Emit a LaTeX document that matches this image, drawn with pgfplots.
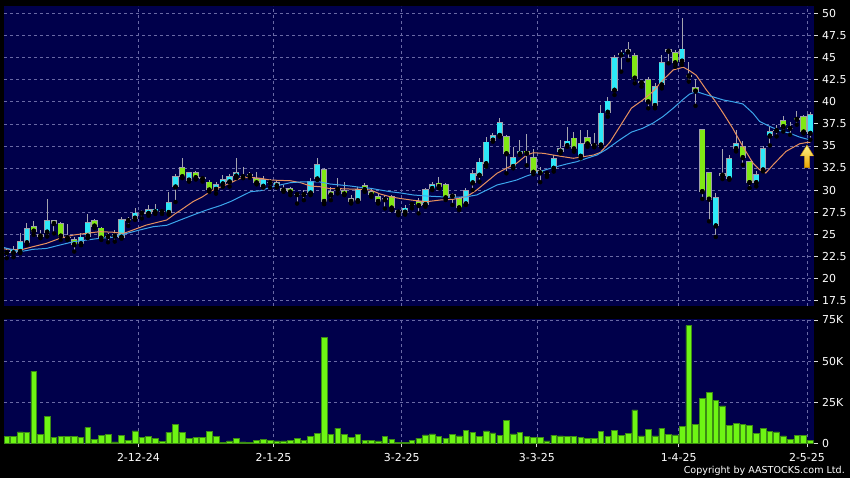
\documentclass[border=0pt]{standalone}
\usepackage{pgfplots}
\pgfplotsset{compat=1.18}
\usepackage{pgfplotstable}
\usepackage{fontspec}
\setmainfont{DejaVu Sans}
\definecolor{bgnavy}{RGB}{0,0,75}
\definecolor{gridc}{RGB}{105,105,165}
\definecolor{cyanb}{RGB}{45,232,248}
\definecolor{greenb}{RGB}{128,232,20}
\definecolor{outlc}{RGB}{160,160,170}
\definecolor{wickc}{RGB}{165,165,175}
\definecolor{maorange}{RGB}{232,145,95}
\definecolor{mablue}{RGB}{60,165,235}
\definecolor{volg}{RGB}{110,245,20}
\definecolor{volo}{RGB}{60,140,20}
\definecolor{ticklc}{RGB}{220,220,220}

\pgfplotstableread{
i lo hi wl wh t
0 22.86 22.98 22.30 23.40 1
1 22.86 23.31 22.41 23.69 1
2 23.00 24.22 22.86 25.20 1
3 23.99 25.69 23.80 26.25 1
4 25.31 25.95 24.93 26.55 0
5 24.75 25.00 24.56 25.50 0
6 25.20 26.63 24.75 28.97 1
7 26.16 26.60 25.10 26.63 0
8 24.75 26.25 24.37 26.44 0
9 24.54 24.66 24.35 26.20 1
10 23.77 24.44 23.05 24.75 0
11 23.88 24.75 23.77 25.12 1
12 24.75 26.37 24.56 27.30 1
13 25.88 26.63 25.70 26.70 0
14 24.52 25.76 24.37 25.88 0
15 24.69 24.81 24.10 25.10 1
16 24.75 25.00 24.18 25.50 1
17 24.63 26.70 24.50 27.00 1
18 26.48 26.74 25.95 27.00 0
19 26.78 27.46 26.63 27.95 1
20 27.34 27.46 26.80 27.80 1
21 27.31 27.88 27.10 28.35 1
22 27.50 27.90 27.30 28.40 1
23 27.51 27.63 27.30 27.90 0
24 27.42 28.65 27.23 29.80 1
25 30.30 31.60 28.65 31.80 1
26 31.46 32.60 31.35 33.58 0
27 31.08 32.00 30.96 32.10 1
28 31.35 32.00 31.20 32.20 0
29 31.23 31.46 30.96 31.60 0
30 29.96 30.96 29.80 31.15 0
31 30.04 30.65 29.60 30.88 1
32 30.65 31.27 30.38 31.73 1
33 30.88 31.54 30.40 31.80 1
34 31.54 32.04 31.35 33.58 1
35 31.46 31.65 31.35 32.58 1
36 31.58 31.80 31.40 32.10 0
37 30.77 31.35 30.65 32.10 0
38 30.38 31.23 30.27 31.54 1
39 30.79 30.91 30.30 31.20 1
40 30.45 30.91 30.30 31.10 1
41 29.95 30.25 29.81 30.57 0
42 29.73 30.19 29.43 30.38 0
43 29.44 29.56 28.48 29.81 1
44 29.44 29.56 28.86 30.00 1
45 29.62 31.06 29.43 31.33 1
46 31.21 32.92 31.14 33.60 1
47 28.67 32.42 28.41 32.50 0
48 29.39 29.85 28.86 30.38 0
49 30.04 30.16 29.62 31.33 1
50 29.51 30.04 29.43 30.95 0
51 28.67 29.13 28.48 29.43 0
52 28.75 30.11 28.67 30.38 1
53 30.00 30.61 29.81 30.76 0
54 29.43 29.89 29.24 30.19 0
55 28.67 29.36 28.48 29.62 0
56 28.86 29.09 27.92 29.43 1
57 27.92 29.36 27.73 29.43 0
58 27.46 27.73 27.16 27.80 1
59 27.46 28.03 27.23 28.30 1
60 28.34 28.46 27.94 28.69 1
61 28.20 28.77 27.37 29.07 0
62 28.32 30.09 28.13 30.27 1
63 30.13 30.65 30.00 30.90 1
64 30.35 30.84 30.20 31.52 0
65 29.07 30.65 28.88 30.77 0
66 29.26 29.52 28.32 29.63 1
67 27.94 29.07 27.75 29.26 0
68 28.39 29.97 28.32 30.20 1
69 30.77 31.90 30.01 32.27 1
70 31.63 33.22 30.95 33.60 1
71 32.93 35.48 32.65 35.97 1
72 35.60 36.20 35.48 36.42 1
73 36.14 37.67 36.05 38.12 1
74 34.06 36.10 31.90 36.23 0
75 32.62 33.75 32.46 34.91 1
76 34.05 34.48 33.97 35.67 1
77 34.10 34.47 32.80 36.40 0
78 31.97 33.75 31.80 34.60 0
79 31.90 32.30 30.90 32.60 0
80 31.82 31.95 31.50 32.00 1
81 32.42 33.65 32.10 33.97 1
82 34.35 34.72 34.16 35.67 1
83 34.99 35.59 34.90 37.17 1
84 34.61 35.93 34.35 36.61 0
85 33.78 35.36 33.59 36.80 1
86 35.18 36.04 34.90 36.80 0
87 34.99 35.21 34.84 36.42 0
88 35.05 38.76 34.90 39.60 1
89 38.76 40.12 38.30 40.57 1
90 41.25 45.02 40.76 45.28 1
91 45.24 45.55 43.40 45.85 1
92 45.58 45.92 44.70 46.79 1
93 42.62 45.28 42.08 45.47 0
94 42.08 42.30 41.70 42.45 0
95 39.93 42.53 39.25 42.83 0
96 39.52 41.78 39.25 42.08 1
97 41.85 44.46 41.50 45.28 1
98 45.66 45.92 44.34 46.00 0
99 44.35 45.65 43.96 45.85 0
100 44.54 46.00 44.16 49.44 1
101 42.85 42.98 42.28 44.54 1
102 41.15 41.64 39.53 42.55 0
103 29.78 36.90 29.00 36.90 0
104 28.92 32.04 26.47 32.04 0
105 25.90 29.22 24.70 29.67 1
106 31.63 31.93 31.25 34.64 1
107 31.25 33.62 31.17 34.00 1
108 34.64 35.32 34.38 36.80 1
109 33.62 34.94 32.87 35.50 0
110 30.80 33.25 30.23 33.25 0
111 30.80 31.81 30.42 32.12 1
112 32.23 34.75 32.12 34.94 1
113 36.07 36.71 35.05 37.20 1
114 36.69 36.81 36.07 37.40 1
115 37.12 37.95 36.63 38.33 0
116 36.94 37.06 36.26 37.76 1
117 37.95 38.21 37.40 38.90 0
118 36.52 38.33 36.40 38.50 0
119 36.37 38.59 35.70 38.78 1
}\candles

\pgfplotstableread{
i v
0 4.0
1 4.0
2 6.9
3 6.5
4 43.7
5 5.2
6 16.3
7 3.6
8 4.2
9 4.2
10 4.4
11 3.8
12 9.5
13 2.4
14 5.0
15 5.4
16 0.8
17 5.0
18 2.0
19 7.5
20 3.8
21 4.2
22 3.0
23 1.0
24 6.7
25 11.5
26 6.7
27 3.0
28 3.4
29 3.4
30 7.3
31 4.0
32 0.6
33 1.4
34 2.8
35 0.8
36 0.4
37 1.8
38 2.6
39 1.8
40 1.4
41 1.4
42 1.6
43 3.0
44 1.8
45 4.0
46 5.8
47 64.5
48 5.4
49 9.3
50 5.6
51 3.6
52 5.4
53 2.0
54 2.0
55 1.4
56 4.4
57 2.6
58 0.4
59 0.6
60 2.0
61 3.2
62 5.1
63 5.7
64 4.1
65 3.2
66 5.3
67 4.5
68 7.7
69 6.7
70 4.1
71 7.5
72 6.3
73 4.7
74 14.0
75 5.7
76 6.5
77 4.1
78 3.4
79 3.4
80 1.4
81 4.9
82 4.5
83 4.3
84 4.1
85 3.6
86 3.2
87 3.2
88 7.3
89 4.1
90 7.7
91 4.7
92 5.9
93 20.3
94 4.5
95 8.3
96 4.5
97 9.1
98 5.5
99 5.1
100 10.5
101 71.6
102 11.6
103 27.4
104 30.8
105 25.9
106 22.7
107 10.9
108 12.2
109 11.6
110 10.9
111 6.1
112 9.3
113 7.3
114 6.9
115 4.5
116 2.6
117 4.7
118 4.7
119 1.6
}\vol

\begin{document}
\begin{tikzpicture}[x=1bp,y=1bp]
\fill[black] (0,0) rectangle (850,478);
\begin{axis}[
  at={(4bp,172bp)}, anchor=south west, scale only axis,
  width=809.5bp, height=300bp,
  xmin=-0.4, xmax=119.47, ymin=16.89, ymax=50.83,
  enlargelimits=false,
  axis background/.style={fill=bgnavy},
  axis line style={draw=none},
  xtick={19.5,39.5,58.5,78.5,99.5,118.5}, xticklabels={},
  xtick style={draw=none},
  ytick={17.5,20,22.5,25,27.5,30,32.5,35,37.5,40,42.5,45,47.5,50},
  ytick pos=right, yticklabel pos=right,
  tick align=outside, major tick length=4bp,
  ytick style={draw=ticklc, line width=0.8bp},
  xmajorgrids, ymajorgrids,
  major grid style={draw=gridc, line width=0.6bp, dash pattern=on 3bp off 3bp},
  yticklabel style={font=\fontsize{11}{13}\selectfont, text=white, anchor=west, inner sep=0pt, xshift=4.5bp},
  /pgf/number format/assume math mode=true,
]
% wicks
\addplot[only marks, mark=none, forget plot,
  error bars/.cd, y dir=plus, y explicit, error mark=none,
  error bar style={line width=1bp, draw=wickc, solid}]
  table[x=i, y=wl, y error expr={\thisrow{wh}-\thisrow{wl}}] {\candles};
% body outlines
\addplot[only marks, mark=none, forget plot,
  error bars/.cd, y dir=plus, y explicit, error mark=none,
  error bar style={line width=6.2bp, draw=outlc, solid}]
  table[x=i, y=lo, y error expr={\thisrow{hi}-\thisrow{lo}}] {\candles};
% cyan bodies
\addplot[only marks, mark=none, forget plot,
  error bars/.cd, y dir=plus, y explicit, error mark=none,
  error bar style={line width=4.7bp, draw=cyanb, solid}]
  table[x=i, y expr={\thisrow{lo}+0.09}, y error expr={\thisrow{t}*max(\thisrow{hi}-\thisrow{lo}-0.18,0)}] {\candles};
% green bodies
\addplot[only marks, mark=none, forget plot,
  error bars/.cd, y dir=plus, y explicit, error mark=none,
  error bar style={line width=4.7bp, draw=greenb, solid}]
  table[x=i, y expr={\thisrow{lo}+0.09}, y error expr={(1-\thisrow{t})*max(\thisrow{hi}-\thisrow{lo}-0.18,0)}] {\candles};
% moving averages
\addplot[draw=maorange, line width=1bp, mark=none] coordinates {
(-0.4,23.35) (2.0,23.22) (3.9,23.6) (5.9,23.98) (7.9,24.55) (9.9,24.92) (11.8,25.11) (13.8,25.3) (15.8,25.23) (17.3,25.1) (18.7,25.49) (20.7,26.05) (22.7,26.43) (23.7,26.62) (24.9,27.3) (25.7,27.7) (27.6,28.7) (28.9,29.2) (30.4,29.95) (32.0,30.45) (33.1,30.8) (34.6,31.35) (36.1,31.45) (37.6,31.33) (39.0,31.14) (40.5,31.1) (42.0,31.06) (43.5,30.84) (45.0,30.46) (46.4,30.38) (47.9,30.16) (49.4,30.16) (50.9,30.12) (52.4,30.09) (53.9,30.01) (55.3,29.56) (56.8,29.25) (58.3,29.05) (60.2,28.85) (62.2,28.69) (64.2,28.88) (66.1,28.96) (68.1,29.25) (69.6,30.01) (71.1,30.95) (72.6,31.9) (74.0,32.47) (75.5,33.03) (77.0,33.97) (78.0,34.23) (79.5,34.16) (80.9,33.97) (82.4,33.78) (83.9,33.6) (85.4,33.78) (86.9,33.97) (87.9,34.26) (89.3,35.4) (90.8,37.2) (92.5,39.27) (94.2,40.2) (95.7,41.15) (97.2,42.47) (98.7,43.6) (100.2,43.9) (101.1,43.52) (102.1,43.0) (103.6,41.34) (104.8,40.2) (106.1,38.7) (107.5,37.0) (109.0,34.94) (110.5,33.06) (111.5,32.3) (112.4,31.93) (113.5,32.87) (115.4,34.38) (117.4,35.24) (118.5,35.39) (119.0,35.4)
};
\addplot[draw=mablue, line width=1bp, mark=none] coordinates {
(-0.4,23.5) (2.0,23.03) (3.9,23.3) (5.9,23.4) (7.9,23.79) (9.9,24.16) (11.8,24.35) (13.8,24.55) (15.8,24.66) (17.8,25.11) (19.7,25.49) (21.7,25.86) (23.7,26.02) (25.7,26.62) (27.6,27.18) (29.6,27.75) (31.6,28.24) (33.1,28.69) (34.6,29.25) (36.1,29.82) (37.6,29.93) (39.0,30.31) (40.5,30.58) (42.0,30.84) (43.5,30.92) (45.0,30.95) (46.4,30.92) (47.9,30.69) (49.4,30.58) (50.9,30.46) (52.4,30.31) (53.9,30.2) (55.3,30.01) (56.8,29.82) (58.3,29.68) (60.2,29.45) (62.2,29.33) (64.2,29.25) (66.1,29.18) (68.1,29.25) (69.6,29.45) (71.1,30.01) (72.6,30.58) (74.0,30.84) (75.5,31.14) (77.0,31.6) (78.5,31.97) (80.0,32.35) (81.4,32.65) (82.9,32.95) (84.4,33.21) (85.9,33.6) (87.4,33.97) (88.8,34.6) (90.8,35.7) (92.5,36.56) (94.2,37.0) (95.7,37.58) (97.2,38.33) (98.7,39.27) (100.2,40.29) (101.1,40.85) (102.1,41.15) (103.6,40.78) (104.8,40.5) (106.1,40.2) (107.5,40.0) (109.0,39.75) (110.5,38.7) (111.5,37.76) (113.0,37.2) (114.4,36.75) (115.9,36.45) (117.4,36.0) (118.5,35.77) (119.0,35.7)
};
% indicator arrow
\shade[top color={rgb,255:red,255;green,245;blue,140}, bottom color={rgb,255:red,235;green,165;blue,0}, draw={rgb,255:red,200;green,140;blue,0}, line width=0.4bp]
  (axis cs:118.5,35.1) -- (axis cs:119.5,33.86) -- (axis cs:118.9,33.86) -- (axis cs:118.9,32.55)
  -- (axis cs:118.1,32.55) -- (axis cs:118.1,33.86) -- (axis cs:117.5,33.86) -- cycle;
\end{axis}

\begin{axis}[
  at={(4bp,34.7bp)}, anchor=south west, scale only axis,
  width=809.5bp, height=124bp,
  xmin=-0.4, xmax=119.47, ymin=0, ymax=75.4,
  enlargelimits=false,
  axis background/.style={fill=bgnavy},
  axis line style={draw=none},
  ybar, bar width=5.6bp,
  xtick={19.5,39.5,58.5,78.5,99.5,118.5},
  xticklabels={2-12-24,2-1-25,3-2-25,3-3-25,1-4-25,2-5-25},
  xtick pos=left,
  ytick={0,25,50,75}, yticklabels={0,25K,50K,75K},
  ytick pos=right, yticklabel pos=right,
  tick align=outside, major tick length=4bp,
  tick style={draw=ticklc, line width=0.8bp},
  xmajorgrids, ymajorgrids,
  major grid style={draw=gridc, line width=0.6bp, dash pattern=on 3bp off 3bp},
  yticklabel style={font=\fontsize{11}{13}\selectfont, text=white, anchor=west, inner sep=0pt, xshift=4.5bp},
  xticklabel style={font=\fontsize{11}{13}\selectfont, text=white, anchor=north, inner sep=0pt, yshift=-6bp},
  /pgf/number format/assume math mode=true,
]
\addplot[fill=volg, draw=volo, line width=0.6bp] table[x=i, y=v] {\vol};
\end{axis}
\node[anchor=base east, text=white, font=\fontsize{9.6}{11}\selectfont, inner sep=0pt] at (845,4) {Copyright by AASTOCKS.com Ltd.};
\end{tikzpicture}
\end{document}
